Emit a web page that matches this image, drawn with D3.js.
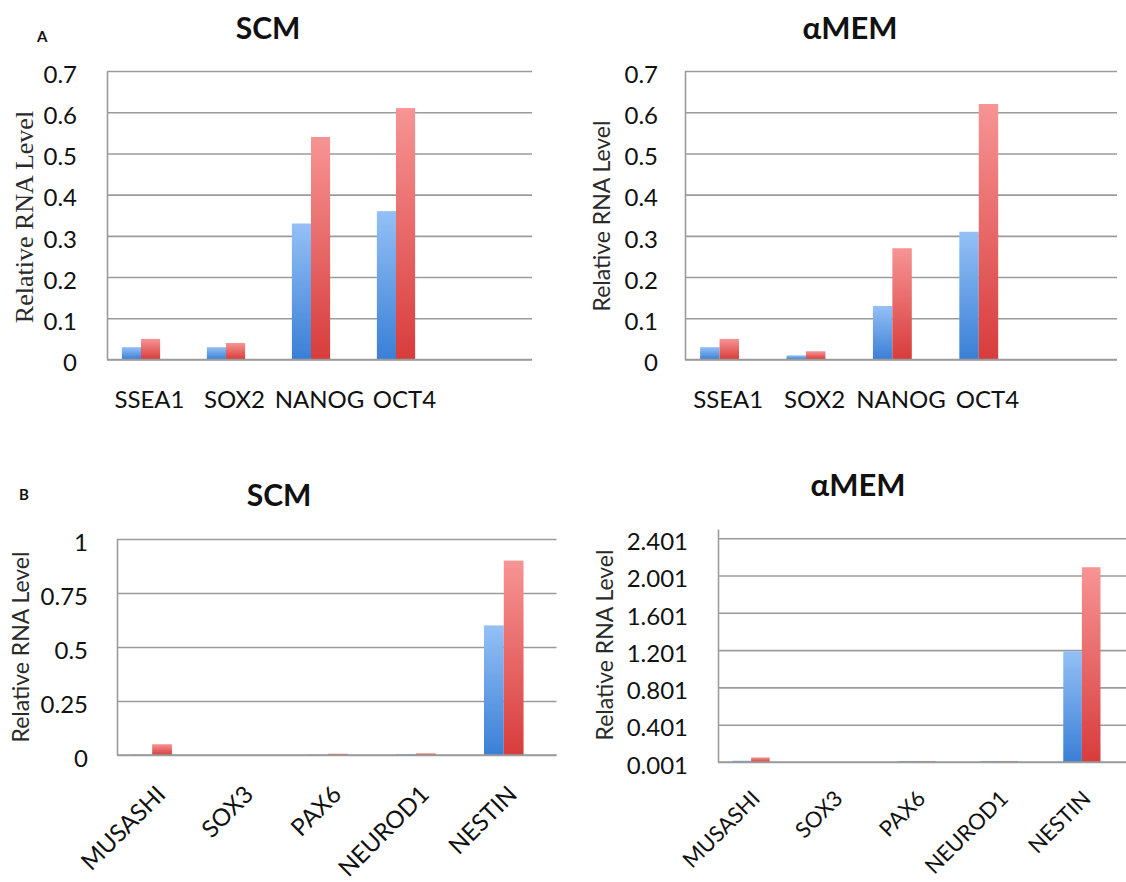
<!DOCTYPE html>
<html>
<head>
<meta charset="utf-8">
<script src="https://cdn.jsdelivr.net/npm/d3@7"></script>
<style>
  body { margin: 0; background: #fff; }
  svg { display: block; }
</style>
</head>
<body>
<svg id="chart" width="1126" height="882"></svg>
<script>
// ---- data ----
const pluriGenes = ["SSEA1", "SOX2", "NANOG", "OCT4", ""];
const pluriScmBlue = [0.03, 0.03, 0.33, 0.36];
const pluriScmRed = [0.05, 0.04, 0.54, 0.61];
const pluriMemBlue = [0.03, 0.01, 0.13, 0.31];
const pluriMemRed = [0.05, 0.02, 0.27, 0.62];
const pluriTicks = [0, 0.1, 0.2, 0.3, 0.4, 0.5, 0.6, 0.7];

const neuroGenes = ["MUSASHI", "SOX3", "PAX6", "NEUROD1", "NESTIN"];
const neuroScmBlue = [0.003, 0, 0.003, 0.004, 0.6];
const neuroScmRed = [0.05, 0, 0.006, 0.008, 0.9];
const neuroMemBlue = [0.015, 0.001, 0.012, 0.012, 1.19];
const neuroMemRed = [0.05, 0.001, 0.012, 0.012, 2.09];
const neuroScmTicks = [0, 0.25, 0.5, 0.75, 1];
const neuroMemTicks = [0.001, 0.401, 0.801, 1.201, 1.601, 2.001, 2.401];

const svg = d3.select("#chart");
const defs = svg.append("defs");
function grad(id, top, bottom) {
  const g = defs.append("linearGradient").attr("id", id)
    .attr("x1", 0).attr("y1", 0).attr("x2", 0).attr("y2", 1);
  g.append("stop").attr("offset", "0%").attr("stop-color", top);
  g.append("stop").attr("offset", "100%").attr("stop-color", bottom);
}
grad("gBlue", "#94c0f6", "#3a7fd6");
grad("gRed", "#f79494", "#d83c3c");

const SANS = "Lato, 'Open Sans', sans-serif";

function panel(o) {
  const x = d3.scaleBand().domain(o.cats).range([o.x0, o.x1]).padding(0);
  const y = d3.scaleLinear().domain(o.domain).range([o.yBottom, o.yTop]);
  const g = svg.append("g");

  // axis + gridlines
  const ax = g.append("g").attr("transform", `translate(${o.x0},0)`)
    .call(d3.axisLeft(y).tickValues(o.ticks).tickFormat(o.fmt)
      .tickSizeInner(-(o.gridEnd - o.x0)).tickSizeOuter(0).tickPadding(o.pad));
  ax.selectAll(".tick line").attr("stroke", "#9b9b9b").attr("stroke-width", 1.6);
  ax.select(".domain").attr("stroke", "#9b9b9b").attr("stroke-width", 1.6);
  ax.selectAll(".tick text").attr("font-family", SANS).attr("font-size", o.tickFont)
    .attr("fill", "#111").attr("dy", "0.47em");

  // bars
  const bw = x.bandwidth() * 0.225;
  const series = [{vals: o.blue, fill: "url(#gBlue)", off: -1}, {vals: o.red, fill: "url(#gRed)", off: 0}];
  series.forEach(s => {
    g.append("g").selectAll("rect").data(s.vals.map((v, i) => ({c: o.cats[i], v})))
      .join("rect")
      .attr("x", d => x(d.c) + x.bandwidth() * 0.4 + s.off * bw)
      .attr("width", bw)
      .attr("y", d => y(Math.max(d.v, o.domain[0])))
      .attr("height", d => y(o.domain[0]) - y(Math.max(d.v, o.domain[0])))
      .attr("fill", s.fill);
  });
  // redraw baseline over bars
  g.append("line").attr("x1", o.x0).attr("x2", o.gridEnd)
    .attr("y1", y(o.domain[0])).attr("y2", y(o.domain[0]))
    .attr("stroke", "#9b9b9b").attr("stroke-width", 1.6);

  // category labels
  const labels = g.append("g").selectAll("text").data(o.cats.filter(c => c !== "")).join("text")
    .attr("font-family", SANS).attr("font-size", o.catFont).attr("fill", "#111")
    .text(d => d);
  if (o.rotate) {
    labels.attr("text-anchor", "end")
      .attr("transform", d => `translate(${x(d) + x.bandwidth() / 2 + o.labDx},${o.labY}) rotate(-45)`);
  } else {
    labels.attr("text-anchor", "middle")
      .attr("x", d => x(d) + x.bandwidth() / 2).attr("y", o.labY);
  }

  // titles
  g.append("text").attr("x", o.titleX).attr("y", o.titleY).attr("text-anchor", "middle")
    .attr("font-family", SANS).attr("font-weight", "bold").attr("font-size", o.titleFont)
    .attr("fill", "#111").text(o.title);
  g.append("text").attr("transform", `translate(${o.ytX},${o.ytY}) rotate(-90)`)
    .attr("text-anchor", "middle").attr("font-family", o.ytFamily).attr("font-size", o.ytFont)
    .attr("fill", "#2a2a2a").text("Relative RNA Level");
}

const fmtPlain = d => String(d);
const fmt3 = d3.format(".3f");

panel({cats: pluriGenes, blue: pluriScmBlue, red: pluriScmRed, ticks: pluriTicks, fmt: fmtPlain,
  domain: [0, 0.7], x0: 107, x1: 532, gridEnd: 532, yBottom: 359.5, yTop: 71,
  pad: 30, tickFont: 24, catFont: 24, labY: 408, rotate: false,
  title: "SCM", titleX: 268, titleY: 39, titleFont: 30,
  ytX: 33, ytY: 217, ytFamily: "'Liberation Serif', 'DejaVu Serif', serif", ytFont: 26});

panel({cats: pluriGenes, blue: pluriMemBlue, red: pluriMemRed, ticks: pluriTicks, fmt: fmtPlain,
  domain: [0, 0.7], x0: 685, x1: 1117, gridEnd: 1117, yBottom: 359.5, yTop: 71,
  pad: 27, tickFont: 24, catFont: 24, labY: 408, rotate: false,
  title: "αMEM", titleX: 850, titleY: 39, titleFont: 31,
  ytX: 610, ytY: 216, ytFamily: SANS, ytFont: 23});

panel({cats: neuroGenes, blue: neuroScmBlue, red: neuroScmRed, ticks: neuroScmTicks, fmt: fmtPlain,
  domain: [0, 1], x0: 117, x1: 556.5, gridEnd: 556.5, yBottom: 755, yTop: 539,
  pad: 29, tickFont: 24, catFont: 24, labY: 796, labDx: 6, rotate: true,
  title: "SCM", titleX: 279, titleY: 506, titleFont: 30,
  ytX: 29, ytY: 647, ytFamily: SANS, ytFont: 23});

panel({cats: neuroGenes, blue: neuroMemBlue, red: neuroMemRed, ticks: neuroMemTicks, fmt: fmt3,
  domain: [0.001, 2.5], x0: 718, x1: 1131.5, gridEnd: 1131.5, yBottom: 762, yTop: 529,
  pad: 30, tickFont: 24, catFont: 22, labY: 800, labDx: 2, rotate: true,
  title: "αMEM", titleX: 858, titleY: 496, titleFont: 31,
  ytX: 613, ytY: 645, ytFamily: SANS, ytFont: 23});

// panel letters
svg.append("text").attr("x", 37).attr("y", 42).attr("font-family", SANS)
  .attr("font-weight", "bold").attr("font-size", 15).attr("fill", "#111").text("A");
svg.append("text").attr("x", 19).attr("y", 500).attr("font-family", SANS)
  .attr("font-weight", "bold").attr("font-size", 15).attr("fill", "#111").text("B");
</script>
</body>
</html>
